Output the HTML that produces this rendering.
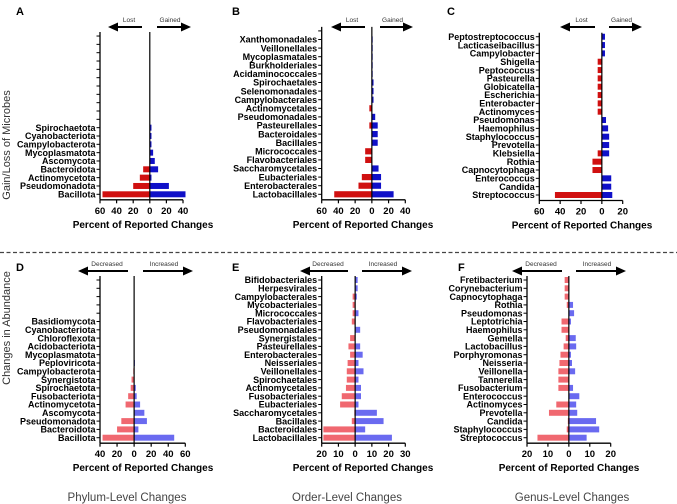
<!DOCTYPE html>
<html><head><meta charset="utf-8"><style>
html,body{margin:0;padding:0;background:#fff;}
svg{display:block;font-family:"Liberation Sans",Arial,sans-serif;}
</style></head><body>
<svg id="fig" width="677" height="504" viewBox="0 0 677 504" xmlns="http://www.w3.org/2000/svg">
<line x1="0" y1="252.5" x2="677" y2="252.5" stroke="#444" stroke-width="1.2" stroke-dasharray="4,2.5"/>
<text transform="translate(10,145) rotate(-90)" text-anchor="middle" font-size="11" fill="#333">Gain/Loss of Microbes</text>
<text transform="translate(10,328) rotate(-90)" text-anchor="middle" font-size="11" fill="#333">Changes in Abundance</text>
<text x="127" y="501" text-anchor="middle" font-size="11.5" fill="#444">Phylum-Level Changes</text>
<text x="347" y="501" text-anchor="middle" font-size="11.5" fill="#444">Order-Level Changes</text>
<text x="572" y="501" text-anchor="middle" font-size="11.5" fill="#444">Genus-Level Changes</text>
</svg>
<script>
// Panel A
const catsA = ["","","","","","","","","","","","Spirochaetota","Cyanobacteriota","Campylobacterota","Mycoplasmatota","Ascomycota","Bacteroidota","Actinomycetota","Pseudomonadota","Bacillota"];
const lostA = [0,0,0,0,0,0,0,0,0,0,0,0,0,0,0,0,8,12,20,57];
const gainA = [0,0,0,0,0,0,0,0,0,0,0,2,2,2,4,6,10,2,23,43];
const ticksA = ["60","40","20","0","20","40"];
// Panel B
const catsB = ["","Xanthomonadales","Veillonellales","Mycoplasmatales","Burkholderiales","Acidaminococcales","Spirochaetales","Selenomonadales","Campylobacterales","Actinomycetales","Pseudomonadales","Pasteurellales","Bacteroidales","Bacillales","Micrococcales","Flavobacteriales","Saccharomycetales","Eubacteriales","Enterobacterales","Lactobacillales"];
const lostB = [0,0,0,0,0,0,0,0,0,3,0,3,0,0,8,8,0,12,16,45];
const gainB = [0,1,1,1,1,1,2,2,2,0,4,7,7,7,0,0,8,11,11,26];
const ticksB = ["60","40","20","0","20","40"];
// Panel C
const catsC = ["Peptostreptococcus","Lacticaseibacillus","Campylobacter","Shigella","Peptococcus","Pasteurella","Globicatella","Escherichia","Enterobacter","Actinomyces","Pseudomonas","Haemophilus","Staphylococcus","Prevotella","Klebsiella","Rothia","Capnocytophaga","Enterococcus","Candida","Streptococcus"];
const lostC = [0,0,0,4,4,4,4,4,4,4,0,0,0,0,4,9,9,0,0,45];
const gainC = [3,3,3,0,0,0,0,0,0,0,4,6,7,7,7,0,0,9,9,10];
const ticksC = ["60","40","20","0","20"];
// Panel D
const catsD = ["","","","","","Basidiomycota","Cyanobacteriota","Chloroflexota","Acidobacteriota","Mycoplasmatota","Peploviricota","Campylobacterota","Synergistota","Spirochaetota","Fusobacteriota","Actinomycetota","Ascomycota","Pseudomonadota","Bacteroidota","Bacillota"];
const lostD = [0,0,0,0,0,0,0,0,0,0,0,1,3,4,7,10,0,15,20,37];
const gainD = [0,0,0,0,0,0,0,0,0,0,1,0,0,2,3,7,12,15,5,47];
const ticksD = ["40","20","0","20","40","60"];
// Panel E
const catsE = ["Bifidobacteriales","Herpesvirales","Campylobacterales","Mycobacteriales","Micrococcales","Flavobacteriales","Pseudomonadales","Synergistales","Pasteurellales","Enterobacterales","Neisseriales","Veillonellales","Spirochaetales","Actinomycetales","Fusobacteriales","Eubacteriales","Saccharomycetales","Bacillales","Bacteroidales","Lactobacillales"];
const lostE = [0,0,1.5,1.5,1.5,2,0,3,4,3,4.5,5,5,5.5,8,9,0.5,2,19,19];
const gainE = [1.5,1.5,1,0,2,0,3,0,3,4.5,2,5,2,3.5,3.5,2,13,17,6,22];
const ticksE = ["20","10","0","10","20","30"];
// Panel F
const catsF = ["Fretibacterium","Corynebacterium","Capnocytophaga","Rothia","Pseudomonas","Leptotrichia","Haemophilus","Gemella","Lactobacillus","Porphyromonas","Neisseria","Veillonella","Tannerella","Fusobacterium","Enterococcus","Actinomyces","Prevotella","Candida","Staphylococcus","Streptococcus"];
const lostF = [2,2,2,1,0,3.5,3.5,1.5,2.5,4,4.5,5,5,5,0,6,9.5,0.5,1,15];
const gainF = [0,0,0,2,2.5,1,0,3.3,3.5,1,1.5,3,0,2,5,3.5,4,13,14.5,8.5];
const ticksF = ["20","10","0","10","20"];

const NS = "http://www.w3.org/2000/svg";
const svg = document.getElementById('fig');
function mk(tag, attrs, parent) {
  const e = document.createElementNS(NS, tag);
  for (const k in attrs) e.setAttribute(k, attrs[k]);
  (parent || svg).appendChild(e);
  return e;
}
function arrow(g, x1, x2, y, dir) {
  const w = 10, h = 4.5;
  if (dir < 0) {
    mk('line', {x1: x1 + w, y1: y, x2: x2, y2: y, stroke: '#000', 'stroke-width': 2}, g);
    mk('polygon', {points: `${x1},${y} ${x1 + w},${y - h} ${x1 + w},${y + h}`, fill: '#000'}, g);
  } else {
    mk('line', {x1: x1, y1: y, x2: x2 - w, y2: y, stroke: '#000', 'stroke-width': 2}, g);
    mk('polygon', {points: `${x2},${y} ${x2 - w},${y - h} ${x2 - w},${y + h}`, fill: '#000'}, g);
  }
}
function panel(p) {
  const g = mk('g', {});
  
  
  const L = p.xl, R = p.xr, scale = (R - L) / (p.lmax + p.rmax);
  const zero = L + p.lmax * scale;
  const xs = v => zero + v * scale;
  const n = p.cats.length;
  const yRow = i => p.yb - (n - 1 - i) * p.step;
  const top = yRow(0) - 4, bot = p.yb + 5.5;
  const bh = p.step * 0.72;
  // letter
  const lt = mk('text', {x: p.lx, y: p.ly, 'font-size': 11, 'font-weight': 'bold'}, g);
  lt.textContent = p.id;
  
  
  // arrows
  const ag = mk('g', {}, g);
  
  
  arrow(ag, p.a[0], p.a[1], p.ay, -1);
  arrow(ag, p.a[2], p.a[3], p.ay, 1);
  const t1 = mk('text', {x: (p.a[0] + p.a[1]) / 2 + 4, y: p.ay - 5, 'font-size': 6.5, 'text-anchor': 'middle', fill: '#333'}, ag);
  t1.textContent = p.lt;
  
  
  const t2 = mk('text', {x: (p.a[2] + p.a[3]) / 2 - 4, y: p.ay - 5, 'font-size': 6.5, 'text-anchor': 'middle', fill: '#333'}, ag);
  t2.textContent = p.rt;
  
  
  // bars
  for (let i = 0; i < n; i++) {
    const y = yRow(i);
    if (p.lost[i] > 0) {
      const r = mk('rect', {x: xs(-p.lost[i]), y: y - bh / 2, width: p.lost[i] * scale, height: bh, fill: p.red}, g);
      
      
    }
    if (p.gain[i] > 0) {
      const r = mk('rect', {x: zero, y: y - bh / 2, width: p.gain[i] * scale, height: bh, fill: p.blue}, g);
      
      
    }
    mk('line', {x1: L - 3.5, y1: y, x2: L, y2: y, stroke: '#000', 'stroke-width': 1}, g);
    if (p.cats[i]) {
      const t = mk('text', {x: L - 4.5, y: y + 3.2, 'font-size': 9, 'font-weight': 'bold', 'text-anchor': 'end'}, g);
      t.textContent = p.cats[i];
      
      
    }
  }
  // axes
  mk('line', {x1: L, y1: top, x2: L, y2: bot, stroke: '#000', 'stroke-width': 1.3}, g);
  mk('line', {x1: zero, y1: top, x2: zero, y2: bot, stroke: '#000', 'stroke-width': 1.2}, g);
  mk('line', {x1: L, y1: bot, x2: R, y2: bot, stroke: '#000', 'stroke-width': 1.3}, g);
  const nt = p.ticks.length;
  for (let k = 0; k < nt; k++) {
    const x = L + (R - L) * k / (nt - 1);
    mk('line', {x1: x, y1: bot, x2: x, y2: bot + 3.5, stroke: '#000', 'stroke-width': 1.2}, g);
    const t = mk('text', {x: x, y: bot + 14, 'font-size': 9.5, 'font-weight': 'bold', 'text-anchor': 'middle'}, g);
    t.textContent = p.ticks[k];
    
    
  }
  const xt = mk('text', {x: p.tx, y: bot + 28, 'font-size': 10, 'font-weight': 'bold', 'text-anchor': 'middle'}, g);
  xt.textContent = 'Percent of  Reported Changes';
  
  
}
const RED1 = '#d01010', BLUE1 = '#1010c8', RED2 = '#f06870', BLUE2 = '#6a6af0';
panel({id:'A', cats:catsA, lost:lostA, gain:gainA, ticks:ticksA, lmax:60, rmax:40, xl:100, xr:183, yb:194.3, step:8.33, red:RED1, blue:BLUE1, lx:16, ly:15, a:[108,142,157,191], ay:27, lt:'Lost', rt:'Gained', tx:143});
panel({id:'B', cats:catsB, lost:lostB, gain:gainB, ticks:ticksB, lmax:60, rmax:40, xl:321.7, xr:405.3, yb:194.3, step:8.6, red:RED1, blue:BLUE1, lx:232, ly:15, a:[331,365,380,413], ay:27, lt:'Lost', rt:'Gained', tx:363});
panel({id:'C', cats:catsC, lost:lostC, gain:gainC, ticks:ticksC, lmax:60, rmax:20, xl:539.3, xr:622.7, yb:195, step:8.33, red:RED1, blue:BLUE1, lx:447, ly:15, a:[560,595,609,642], ay:27, lt:'Lost', rt:'Gained', tx:582});
panel({id:'D', cats:catsD, lost:lostD, gain:gainD, ticks:ticksD, lmax:40, rmax:60, xl:100, xr:185.3, yb:437.7, step:8.3, red:RED2, blue:BLUE2, lx:16, ly:271, a:[78,128,143,193], ay:271, lt:'Decreased', rt:'Increased', tx:143});
panel({id:'E', cats:catsE, lost:lostE, gain:gainE, ticks:ticksE, lmax:20, rmax:30, xl:321.7, xr:405.3, yb:437.7, step:8.3, red:RED2, blue:BLUE2, lx:232, ly:271, a:[300,348,362,412], ay:271, lt:'Decreased', rt:'Increased', tx:363});
panel({id:'F', cats:catsF, lost:lostF, gain:gainF, ticks:ticksF, lmax:20, rmax:20, xl:527, xr:610.7, yb:437.7, step:8.3, red:RED2, blue:BLUE2, lx:458, ly:271, a:[512,562,576,626], ay:271, lt:'Decreased', rt:'Increased', tx:569});
</script>
</body></html>
